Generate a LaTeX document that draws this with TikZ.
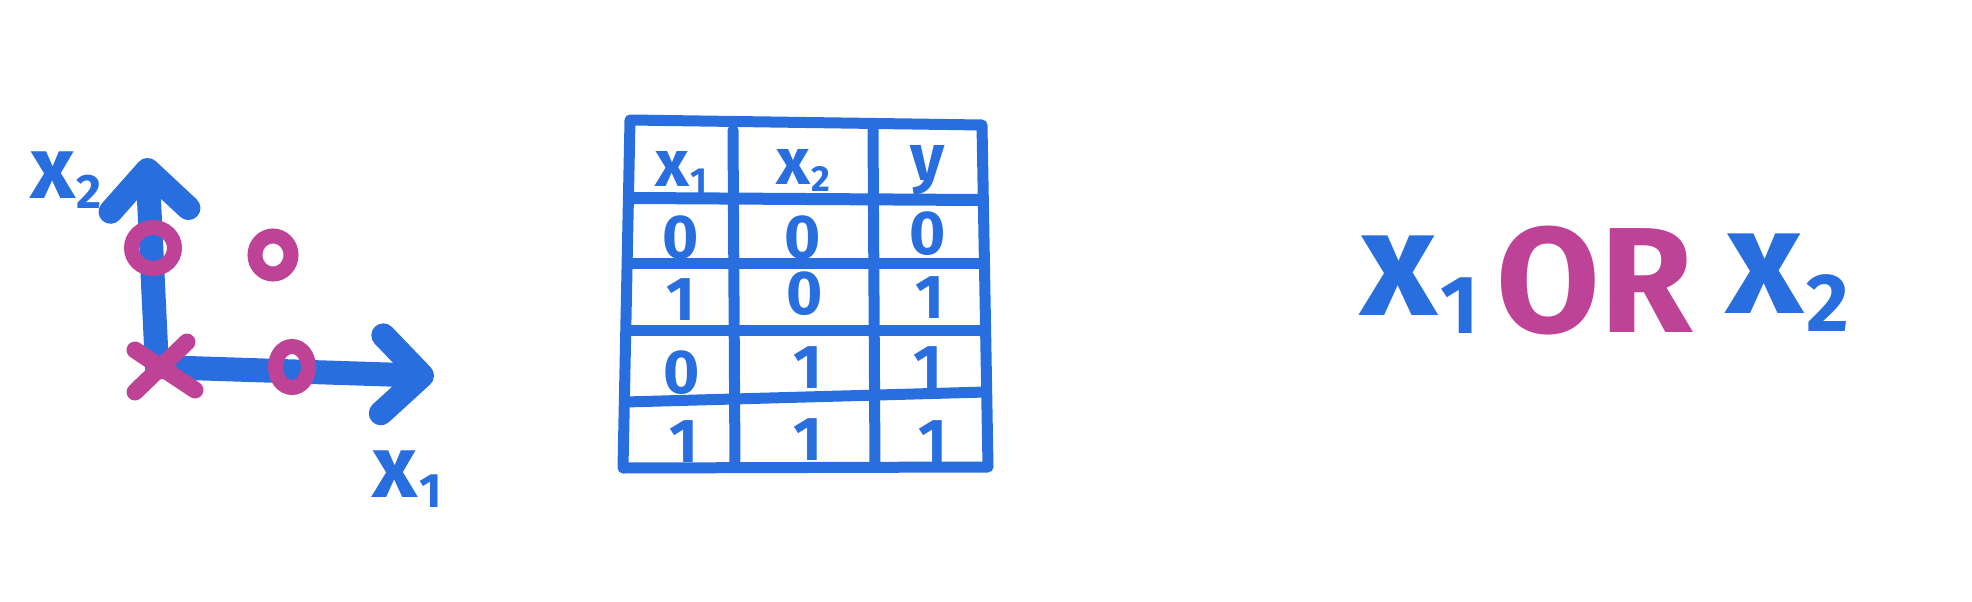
\documentclass[tikz,border=0pt]{standalone}
\usepackage{fontspec}
\setmainfont{Fira Sans}
\usetikzlibrary{arrows.meta,shapes.geometric}
\definecolor{penblue}{RGB}{40,110,222}
\definecolor{penpink}{RGB}{190,66,150}
\newcommand{\xs}[1]{x\kern0.02em\raisebox{-0.12em}{\scalebox{0.55}{#1}}}
\tikzset{
  pen/.style={penblue, line width=#1, line cap=round, line join=round},
  axis/.style={pen=24pt, -{Straight Barb[round,length=40pt,width=78pt]}},
  ring/.style={draw=penpink, line width=15pt, ellipse, inner sep=0pt},
  cross/.style={penpink, line width=17pt, line cap=round},
  cell/.style={penblue, anchor=base, font=\bfseries\fontsize{62}{62}\selectfont},
  head/.style={penblue, anchor=base, font=\bfseries\fontsize{66}{66}\selectfont},
  big/.style={anchor=base, font=\bfseries\fontsize{150}{150}\selectfont}
}

\begin{document}
\begin{tikzpicture}[x=1pt,y=-1pt]
  \useasboundingbox (0,0) rectangle (1972,602);

  %% -- plot
  \coordinate (o)  at (157,367);
  \coordinate (yt) at (147,158);
  \coordinate (xt) at (434,376);
  \draw[axis] (o) -- (yt);
  \draw[axis] (o) -- (xt);
  \node (lx2) [penblue, big, font=\bfseries\fontsize{88}{88}\selectfont] at (66,198) {\xs{2}};
  \node (lx1) [penblue, big, font=\bfseries\fontsize{88}{88}\selectfont] at (407,497) {\xs{1}};

  \node (p01) [ring, minimum width=43pt, minimum height=41pt] at (153,248) {};
  \node (p11) [ring, minimum width=36pt, minimum height=38pt] at (273,255) {};
  \node (p10) [ring, minimum width=33pt, minimum height=41pt] at (292,367) {};
  \coordinate (k1) at (135,350);
  \coordinate (k2) at (195,390);
  \coordinate (k3) at (187,342);
  \coordinate (k4) at (135,392);
  \draw[cross] (k1) -- (k2);
  \draw[cross] (k3) -- (k4);

  %% -- table
  \coordinate (tl) at (630,120);
  \coordinate (tr) at (982,125);
  \coordinate (bl) at (623,468);
  \coordinate (br) at (988,467);
  \draw[pen=11pt] (tl) -- (tr) -- (br) -- (bl) -- cycle;
  \draw[pen=11pt] (733,130) -- (735,467);
  \draw[pen=11pt] (873,128) -- (875,467);
  \draw[pen=12pt] (633,198) -- (980,200);
  \draw[pen=11pt] (630,263) -- (983,263);
  \draw[pen=11pt] (628,330) -- (984,330);
  \draw[pen=11pt] (625,402) -- (986,392);

  \node (c00) [head] at (681,186) {\xs{1}};
  \node (c01) [head] at (803,184) {\xs{2}};
  \node (c02) [head] at (928,180) {y};

  \node (c10) [cell] at (681,258) {0};
  \node (c11) [cell] at (803,258) {0};
  \node (c12) [cell] at (928,254) {0};

  \node (c20) [cell] at (681,320) {1};
  \node (c21) [cell] at (805,314) {0};
  \node (c22) [cell] at (930,318) {1};

  \node (c30) [cell] at (682,393) {0};
  \node (c31) [cell] at (808,388) {1};
  \node (c32) [cell] at (928,388) {1};

  \node (c40) [cell] at (684,462) {1};
  \node (c41) [cell] at (808,460) {1};
  \node (c42) [cell] at (933,462) {1};

  %% -- formula
  \node (or)  [big, penpink] at (1595,332) {OR};
  \node (rx1) [big, penblue] at (1420,315) {\xs{1}};
  \node (rx2) [big, penblue] at (1788,313) {\xs{2}};

\end{tikzpicture}
\end{document}
